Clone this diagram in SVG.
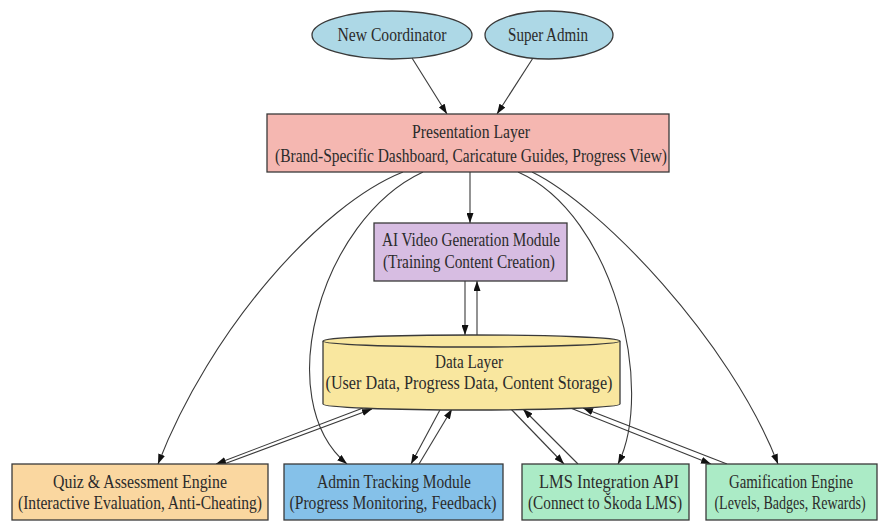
<svg xmlns="http://www.w3.org/2000/svg" width="878" height="522" viewBox="0 0 878 522">
<style>
text{font-family:"Liberation Serif","Times New Roman",serif;font-size:18px;fill:#2b2b2b;text-anchor:middle}
.n{stroke:#3a3a3a;stroke-width:1.3}
.e{fill:none;stroke:#3a3a3a;stroke-width:1.1;marker-end:url(#ah)}
</style>
<defs>
<marker id="ah" markerUnits="userSpaceOnUse" markerWidth="10" markerHeight="7" refX="10" refY="3.5" orient="auto">
<path d="M0,0 L10,3.5 L0,7 z" fill="#111"/>
</marker>
</defs>
<rect width="878" height="522" fill="#fff"/>
<g id="connectors">
<line class="e" x1="412" y1="58" x2="447" y2="114"/>
<line class="e" x1="533" y1="58" x2="497" y2="114"/>
<line class="e" x1="470" y1="172" x2="470" y2="223"/>
<line class="e" x1="465" y1="281" x2="465" y2="335"/>
<line class="e" x1="477" y1="335" x2="477" y2="281"/>
<path class="e" d="M403,172 C320,205 210,330 158,464"/>
<path class="e" d="M423,172 C320,220 270,400 347,464"/>
<path class="e" d="M518,172 C615,215 655,390 618,464"/>
<path class="e" d="M532,172 C600,205 730,340 778,464"/>
<line class="e" x1="363" y1="408" x2="216" y2="464"/>
<line class="e" x1="224" y1="464" x2="372" y2="409"/>
<line class="e" x1="441" y1="408" x2="411" y2="464"/>
<line class="e" x1="419" y1="464" x2="452" y2="409"/>
<line class="e" x1="510" y1="408" x2="564" y2="464"/>
<line class="e" x1="578" y1="464" x2="523" y2="409"/>
<line class="e" x1="568" y1="407" x2="711" y2="464"/>
<line class="e" x1="727" y1="464" x2="583" y2="408"/>
</g>
<g id="new-coordinator">
<ellipse class="n" cx="392" cy="35" rx="80" ry="24" fill="#add8e6"/>
<text x="392" y="41" textLength="109" lengthAdjust="spacingAndGlyphs">New Coordinator</text>
</g>
<g id="super-admin">
<ellipse class="n" cx="549" cy="35" rx="64" ry="24" fill="#add8e6"/>
<text x="548" y="41" textLength="80" lengthAdjust="spacingAndGlyphs">Super Admin</text>
</g>
<g id="presentation-layer">
<rect class="n" x="267" y="114" width="402" height="58" fill="#f5b7b1"/>
<text x="471" y="138" textLength="118" lengthAdjust="spacingAndGlyphs">Presentation Layer</text>
<text x="471" y="162" textLength="392" lengthAdjust="spacingAndGlyphs">(Brand-Specific Dashboard, Caricature Guides, Progress View)</text>
</g>
<g id="ai-video">
<rect class="n" x="374" y="223" width="193" height="58" fill="#d7bde2"/>
<text x="471" y="246" textLength="178" lengthAdjust="spacingAndGlyphs">AI Video Generation Module</text>
<text x="469" y="268" textLength="172" lengthAdjust="spacingAndGlyphs">(Training Content Creation)</text>
</g>
<g id="data-layer">
<path class="n" d="M323,341 A148.5,6 0 0 1 620,341 L620,404 A148.5,6 0 0 1 323,404 Z" fill="#f9e79f"/>
<path class="n" d="M323,341 A148.5,6 0 0 0 620,341" fill="none"/>
<text x="469" y="368" textLength="68" lengthAdjust="spacingAndGlyphs">Data Layer</text>
<text x="469" y="389" textLength="287" lengthAdjust="spacingAndGlyphs">(User Data, Progress Data, Content Storage)</text>
</g>
<g id="quiz">
<rect class="n" x="12" y="464" width="256" height="56" fill="#fad7a0"/>
<text x="140" y="488" textLength="174" lengthAdjust="spacingAndGlyphs">Quiz &amp; Assessment Engine</text>
<text x="140" y="509" textLength="244" lengthAdjust="spacingAndGlyphs">(Interactive Evaluation, Anti-Cheating)</text>
</g>
<g id="admin-tracking">
<rect class="n" x="284" y="464" width="219" height="56" fill="#85c1e9"/>
<text x="394" y="488" textLength="154" lengthAdjust="spacingAndGlyphs">Admin Tracking Module</text>
<text x="393" y="509" textLength="207" lengthAdjust="spacingAndGlyphs">(Progress Monitoring, Feedback)</text>
</g>
<g id="lms-api">
<rect class="n" x="522" y="464" width="167" height="56" fill="#abebc6"/>
<text x="609" y="488" textLength="140" lengthAdjust="spacingAndGlyphs">LMS Integration API</text>
<text x="605" y="509" textLength="154" lengthAdjust="spacingAndGlyphs">(Connect to Škoda LMS)</text>
</g>
<g id="gamification">
<rect class="n" x="706" y="464" width="171" height="56" fill="#abebc6"/>
<text x="791" y="488" textLength="124" lengthAdjust="spacingAndGlyphs">Gamification Engine</text>
<text transform="translate(790,509) scale(0.78,1)" x="0" y="0">(Levels, Badges, Rewards)</text>
</g>
</svg>
